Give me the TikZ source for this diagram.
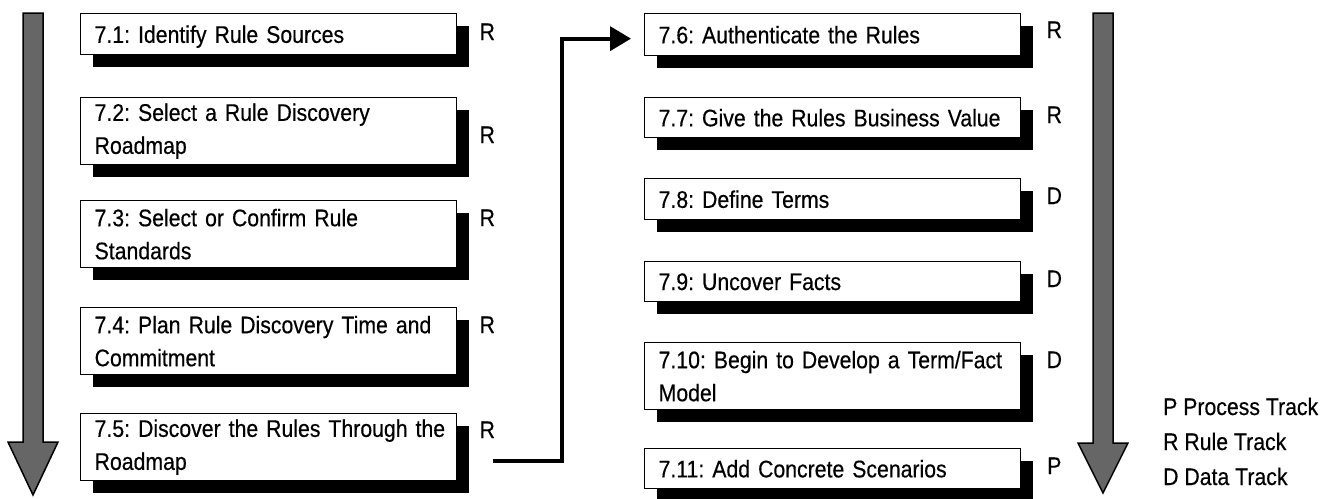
\documentclass[tikz,border=0pt]{standalone}
\usepackage{fontspec}
\setmainfont{Liberation Sans}[FakeStretch=0.885,FakeBold=0.4]
\usetikzlibrary{shadows,calc,arrows.meta}
\definecolor{flowgray}{RGB}{102,102,102}

\tikzset{
  stepbox/.style={draw=black, line width=1.3pt, fill=white, anchor=north west,
    text width=348pt, inner xsep=14pt, inner ysep=0pt, align=left,
    font=\fontsize{24}{33}\selectfont\frenchspacing,
    drop shadow={shadow xshift=12pt, shadow yshift=-12pt, fill=black, opacity=1}},
  onebox/.style={stepbox, text depth=0pt},
  twobox/.style={stepbox, minimum height=67pt},
  track/.style={anchor=base, inner sep=0pt, font=\fontsize{24}{33}\selectfont},
  legend/.style={anchor=base west, inner sep=0pt, font=\fontsize{24}{33}\selectfont},
  flow/.style={fill=flowgray, draw=black, line width=1.5pt, line join=miter},
  conn/.style={line width=3.8pt, -{Triangle[length=21pt,width=24pt]}}
}

\begin{document}
\begin{tikzpicture}[x=1pt,y=-1pt]
\useasboundingbox (0,0) rectangle (1329,498);

% downward flow arrows
\draw[flow] (23,13) -- (43,13) -- (43,442) -- (58,442) -- (33,495) -- (8,442) -- (23,442) -- cycle;
\draw[flow] (1093,13) -- (1113,13) -- (1113,443) -- (1128,443) -- (1103,493) -- (1078,443) -- (1093,443) -- cycle;

% left column of steps
\node[onebox, minimum height=41pt] (b71) at (80,13)  {7.1: Identify Rule Sources};
\node[twobox] (b72) at (80,97)  {\mbox{7.2: Select a Rule Discovery}\\Roadmap};
\node[twobox] (b73) at (80,200) {\mbox{7.3: Select or Confirm Rule}\\Standards};
\node[twobox] (b74) at (80,307) {\mbox{7.4: Plan Rule Discovery Time and}\\Commitment};
\node[twobox] (b75) at (80,413) {\mbox{7.5: Discover the Rules Through the}\\Roadmap};

% right column of steps
\node[onebox, minimum height=42pt] (b76)  at (644,13)  {7.6: Authenticate the Rules};
\node[onebox, minimum height=40pt] (b77)  at (644,97)  {7.7: Give the Rules Business Value};
\node[onebox, minimum height=41pt] (b78)  at (644,178) {7.8: Define Terms};
\node[onebox, minimum height=40pt] (b79)  at (644,261) {7.9: Uncover Facts};
\node[twobox] (b710) at (644,342) {\mbox{7.10: Begin to Develop a Term/Fact}\\Model};
\node[onebox, minimum height=40pt] (b711) at (644,448) {7.11: Add Concrete Scenarios};

% track letters
\node[track] (t71)  at ($(b71.north east)+(30,27)$)  {R};
\node[track] (t72)  at ($(b72.north east)+(30,46)$)  {R};
\node[track] (t73)  at ($(b73.north east)+(30,26)$)  {R};
\node[track] (t74)  at ($(b74.north east)+(30,26)$)  {R};
\node[track] (t75)  at ($(b75.north east)+(30,25)$)  {R};
\node[track] (t76)  at ($(b76.north east)+(33,25)$)  {R};
\node[track] (t77)  at ($(b77.north east)+(33,26)$)  {R};
\node[track] (t78)  at ($(b78.north east)+(33,26)$)  {D};
\node[track] (t79)  at ($(b79.north east)+(33,26)$)  {D};
\node[track] (t710) at ($(b710.north east)+(33,26)$) {D};
\node[track] (t711) at ($(b711.north east)+(33,26)$) {P};

% legend
\node[legend] (lp) at (1163,415) {P Process Track};
\node[legend] (lr) at (1163,450) {R Rule Track};
\node[legend] (ld) at (1163,485) {D Data Track};

% link from the end of the left column to the top of the right column
\coordinate (out75) at ($(b75.east)+(36,13.5)$);
\coordinate (in76)  at ($(b76.west)+(-13,4)$);
\draw[conn] (out75) -| ($(out75)!0.5!(in76)$) |- (in76);
\end{tikzpicture}
\end{document}
